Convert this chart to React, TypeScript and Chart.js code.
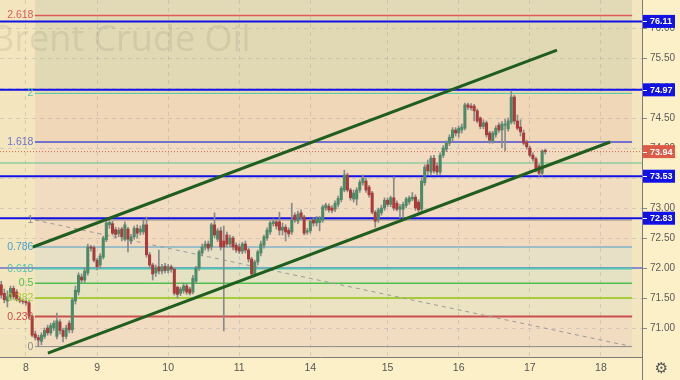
import React, { useEffect, useRef } from 'react';
import { Chart, registerables } from 'chart.js';

Chart.register(...registerables);

// ---- axes ----
const xTickPos = [0, 23, 46, 69, 92, 117, 140, 163, 186];
const xTickLabels = ['8', '9', '10', '11', '14', '15', '16', '17', '18'];
const yTicks = [71, 71.5, 72, 72.5, 73, 73.5, 74, 74.5, 75, 75.5, 76];
const X_MIN = -8.4;
const X_MAX = 199.3;
const Y_MIN = 70.517;
const Y_MAX = 76.467;

// ---- hourly candles [open, high, low, close] per trading day ----
const dayStart = [-8, 0, 23, 46, 69, 92, 117, 140, 163];
const day5 = [
  [71.72, 71.78, 71.5, 71.55], [71.58, 71.65, 71.42, 71.47], [71.45, 71.62, 71.35, 71.52], [71.52, 71.7, 71.48, 71.66],
  [71.66, 71.7, 71.48, 71.52], [71.6, 71.64, 71.45, 71.48], [71.48, 71.52, 71.42, 71.45], [71.45, 71.48, 71.4, 71.44],
];
const day8 = [
  [71.44, 71.47, 71.38, 71.42], [71.42, 71.45, 71.15, 71.2], [71.2, 71.22, 70.85, 70.88], [70.9, 70.95, 70.8, 70.84],
  [70.84, 70.88, 70.69, 70.8], [70.78, 70.92, 70.72, 70.88], [70.86, 71.0, 70.82, 70.96], [71.0, 71.05, 70.88, 70.92],
  [70.92, 71.08, 70.88, 71.04], [71.0, 71.12, 70.96, 71.08], [70.86, 71.25, 70.82, 71.12], [71.1, 71.14, 70.9, 70.96],
  [70.96, 71.0, 70.77, 70.86], [70.86, 71.05, 70.82, 71.0], [71.08, 71.12, 70.92, 70.97], [70.97, 71.5, 70.92, 71.47],
  [71.45, 71.7, 71.4, 71.63], [71.6, 71.92, 71.55, 71.88], [71.85, 71.9, 71.75, 71.8], [71.8, 72.0, 71.76, 71.95],
  [71.92, 72.4, 71.88, 72.35], [72.35, 72.38, 72.28, 72.33], [72.34, 72.37, 72.1, 72.13],
];
const day9 = [
  [72.13, 72.16, 71.97, 72.02], [72.05, 72.24, 72.0, 72.2], [72.18, 72.53, 72.15, 72.5], [72.47, 72.78, 72.44, 72.75],
  [72.72, 72.83, 72.66, 72.76], [72.74, 72.78, 72.55, 72.58], [72.64, 72.68, 72.5, 72.56], [72.57, 72.67, 72.52, 72.63],
  [72.65, 72.68, 72.45, 72.52], [72.48, 72.77, 72.45, 72.72], [72.65, 72.68, 72.27, 72.48], [72.45, 72.56, 72.4, 72.52],
  [72.52, 72.7, 72.48, 72.66], [72.66, 72.72, 72.5, 72.58], [72.6, 72.7, 72.55, 72.65], [72.6, 72.8, 72.56, 72.72],
  [72.72, 72.85, 72.18, 72.22], [72.22, 72.26, 72.0, 72.05], [72.05, 72.08, 71.8, 71.9], [71.92, 72.05, 71.86, 72.0],
  [72.02, 72.3, 71.9, 71.95], [71.95, 72.06, 71.9, 72.02], [72.03, 72.08, 71.92, 71.96],
];
const day10 = [
  [71.96, 72.06, 71.92, 72.02], [72.02, 72.05, 71.93, 71.98], [71.98, 72.0, 71.55, 71.58], [71.68, 71.7, 71.5, 71.56],
  [71.58, 71.68, 71.54, 71.65], [71.62, 71.75, 71.58, 71.7], [71.7, 71.74, 71.56, 71.6], [71.65, 71.68, 71.55, 71.58],
  [71.6, 71.88, 71.57, 71.83], [71.78, 72.03, 71.74, 72.0], [72.0, 72.3, 71.96, 72.27], [72.25, 72.4, 72.2, 72.35],
  [72.35, 72.45, 72.3, 72.4], [72.4, 72.45, 72.28, 72.33], [72.35, 72.75, 72.3, 72.72], [72.72, 72.92, 72.5, 72.55],
  [72.48, 72.66, 72.44, 72.62], [72.62, 72.68, 72.3, 72.35], [72.45, 72.7, 70.95, 72.35], [72.55, 72.6, 72.35, 72.4],
  [72.4, 72.55, 72.35, 72.5], [72.5, 72.53, 72.3, 72.35], [72.38, 72.42, 72.26, 72.3],
];
const day11 = [
  [72.35, 72.4, 72.24, 72.28], [72.28, 72.43, 72.24, 72.4], [72.4, 72.45, 72.25, 72.3], [72.3, 72.33, 72.1, 72.15],
  [72.15, 72.18, 71.87, 71.9], [71.9, 72.13, 71.86, 72.1], [72.1, 72.3, 72.05, 72.27], [72.25, 72.45, 72.2, 72.4],
  [72.38, 72.55, 72.33, 72.52], [72.5, 72.67, 72.46, 72.63], [72.6, 72.78, 72.56, 72.75], [72.74, 72.82, 72.7, 72.77],
  [72.77, 72.8, 72.65, 72.7], [72.77, 72.93, 72.55, 72.63], [72.63, 72.75, 72.55, 72.68], [72.68, 72.72, 72.45, 72.6],
  [72.63, 72.67, 72.52, 72.57], [72.6, 73.08, 72.56, 72.8], [72.88, 72.92, 72.76, 72.8], [72.78, 72.95, 72.74, 72.9],
  [72.92, 72.97, 72.8, 72.85], [72.85, 72.88, 72.55, 72.58], [72.6, 72.66, 72.56, 72.62],
];
const day14 = [
  [72.62, 72.82, 72.58, 72.78], [72.8, 72.84, 72.7, 72.75], [72.75, 72.86, 72.7, 72.82], [72.76, 72.86, 72.62, 72.82],
  [72.8, 73.05, 72.76, 73.02], [73.0, 73.08, 72.96, 73.05], [73.03, 73.07, 72.93, 72.97], [73.0, 73.04, 72.92, 72.96],
  [72.98, 73.12, 72.94, 73.08], [73.06, 73.2, 73.02, 73.16], [73.14, 73.36, 73.1, 73.33], [73.3, 73.63, 73.27, 73.55],
  [73.55, 73.58, 73.27, 73.3], [73.3, 73.33, 73.13, 73.17], [73.15, 73.3, 73.1, 73.25], [73.15, 73.34, 73.05, 73.3],
  [73.3, 73.47, 73.26, 73.43], [73.42, 73.55, 73.38, 73.5], [73.45, 73.5, 73.26, 73.3], [73.35, 73.38, 73.18, 73.22],
  [73.25, 73.28, 72.9, 72.93], [72.93, 72.96, 72.68, 72.78], [72.8, 73.0, 72.76, 72.97], [72.92, 73.05, 72.88, 73.0],
  [73.0, 73.17, 72.96, 73.13],
];
const day15 = [
  [73.13, 73.17, 73.02, 73.06], [73.06, 73.2, 73.02, 73.17], [73.17, 73.52, 72.96, 73.0], [73.08, 73.12, 72.95, 72.98],
  [72.98, 73.06, 72.83, 73.02], [72.98, 73.1, 72.83, 73.06], [73.04, 73.18, 73.0, 73.15], [73.1, 73.2, 73.06, 73.17],
  [73.15, 73.26, 73.12, 73.18], [73.18, 73.22, 72.96, 73.0], [73.1, 73.14, 72.93, 72.97], [72.98, 73.5, 72.92, 73.45],
  [73.42, 73.72, 73.38, 73.68], [73.72, 73.8, 73.56, 73.62], [73.6, 73.87, 73.55, 73.83], [73.83, 73.88, 73.58, 73.62],
  [73.7, 73.75, 73.55, 73.6], [73.6, 73.92, 73.56, 73.88], [73.88, 74.04, 73.84, 74.0], [73.98, 74.12, 73.94, 74.08],
  [74.08, 74.22, 74.04, 74.18], [74.17, 74.34, 74.12, 74.3], [74.3, 74.34, 74.2, 74.25],
];
const day16 = [
  [74.25, 74.37, 74.18, 74.33], [74.3, 74.4, 74.25, 74.35], [74.33, 74.75, 74.3, 74.72], [74.72, 74.75, 74.64, 74.68],
  [74.7, 74.74, 74.63, 74.67], [74.7, 74.73, 74.45, 74.62], [74.62, 74.65, 74.42, 74.45], [74.5, 74.52, 74.32, 74.36],
  [74.36, 74.47, 74.32, 74.42], [74.42, 74.45, 74.18, 74.22], [74.25, 74.28, 74.08, 74.13], [74.12, 74.28, 74.08, 74.25],
  [74.22, 74.37, 74.18, 74.33], [74.38, 74.42, 74.26, 74.3], [74.3, 74.44, 74.0, 74.4], [74.38, 74.48, 73.95, 74.4],
  [74.32, 74.5, 74.28, 74.45], [74.43, 74.95, 74.4, 74.85], [74.85, 74.88, 74.4, 74.45], [74.45, 74.55, 74.3, 74.33],
  [74.35, 74.47, 74.2, 74.27], [74.25, 74.3, 74.05, 74.08], [74.1, 74.13, 73.98, 74.02],
];
const day17 = [
  [74.0, 74.03, 73.85, 73.88], [73.88, 73.92, 73.78, 73.82], [73.82, 73.85, 73.6, 73.65], [73.7, 73.73, 73.53, 73.58],
  [73.58, 73.97, 73.53, 73.95], [73.96, 73.98, 73.9, 73.94],
];
const days = [day5, day8, day9, day10, day11, day14, day15, day16, day17];

// ---- drawing tools ----
const fibX = [2.9, 196.1];
const fibRatios = ['0', '0.236', '0.382', '0.5', '0.618', '0.786', '1', '1.618', '2', '2.618'];
const fibValues = [70.69, 71.19, 71.5, 71.745, 71.99, 72.35, 72.8, 74.1, 74.91, 76.21];
const fibColors = ['#8c8c8c', '#c9504f', '#a6cc3c', '#4fbf4f', '#4fc4b0', '#4a9fcc', '#8c8c8c', '#7272cc', '#52c8a0', '#e05a5a'];
const fibWidths = [1, 2, 2, 1.5, 2, 1, 1, 2, 1, 1.5];
const bandColors = ['#f1dcc1', '#ebe3c1', '#e5e3c1', '#e4e2c3', '#e8e0c6', '#f1dabd', '#f2dcc1', '#efd7b7', '#e1d9b4'];
const topBandColor = '#e2dab6';
const bottomBandColor = '#f1e3c4';
const baseColor = '#f3e6bf';

const blueLevels = [76.11, 74.97, 73.53, 72.83];
const lastPrice = 73.94;
const greenLevel = 73.75;
const purpleLevel = 72.0;
const upperChannel = [{ x: 2.27, y: 72.35 }, { x: 171.8, y: 75.633 }];
const lowerChannel = [{ x: 7.1, y: 70.583 }, { x: 189.0, y: 74.1 }];
const fibTrend = [{ x: 2.9, y: 72.8 }, { x: 196.1, y: 70.69 }];

const GREEN = '#4b8b68';
const RED = '#a93b3b';
const WICK = '#8a8a8a';
const BLUE = '#1212e6';
const FONT = '"Liberation Sans", Arial, sans-serif';

function hLine(y: number, x0: number, x1: number) {
  return [{ x: x0, y }, { x: x1, y }];
}

const overlayPlugin = {
  id: 'overlay',
  beforeDatasetsDraw(chart: any) {
    const { ctx } = chart;
    const a = chart.chartArea;
    ctx.save();
    ctx.beginPath();
    ctx.rect(a.left, a.top, a.right - a.left, a.bottom - a.top);
    ctx.clip();
    ctx.font = '36px "Open Sans", sans-serif';
    ctx.fillStyle = 'rgba(110,100,75,0.13)';
    ctx.textAlign = 'left';
    ctx.textBaseline = 'alphabetic';
    ctx.fillText('Brent Crude Oil', -9, 51);
    ctx.restore();
  },
  afterDatasetsDraw(chart: any) {
    const { ctx } = chart;
    const xs = chart.scales.x;
    const ys = chart.scales.y;
    ctx.save();
    ctx.font = '10.5px ' + FONT;
    ctx.textAlign = 'right';
    ctx.textBaseline = 'middle';
    const lx = xs.getPixelForValue(fibX[0]) - 1.5;
    fibRatios.forEach((r, i) => {
      ctx.fillStyle = fibColors[i];
      ctx.fillText(r, lx, ys.getPixelForValue(fibValues[i]));
    });
    ctx.restore();
  },
  afterDraw(chart: any) {
    const { ctx } = chart;
    const ys = chart.scales.y;
    const a = chart.chartArea;
    ctx.save();
    ctx.strokeStyle = '#7a7a7a';
    ctx.lineWidth = 1;
    ctx.beginPath();
    ctx.moveTo(a.right + 0.5, a.bottom);
    ctx.lineTo(a.right + 0.5, chart.height);
    ctx.stroke();
    const boxes = blueLevels.map((v) => ({ v, c: BLUE })).concat([{ v: lastPrice, c: '#dc5a46' }]);
    ctx.font = 'bold 9px ' + FONT;
    ctx.textAlign = 'left';
    ctx.textBaseline = 'middle';
    boxes.forEach((b) => {
      const y = ys.getPixelForValue(b.v);
      ctx.fillStyle = b.c;
      ctx.fillRect(a.right + 1, y - 6.5, 32, 13);
      ctx.strokeStyle = '#ffffff';
      ctx.beginPath();
      ctx.moveTo(a.right + 1, Math.round(y) + 0.5);
      ctx.lineTo(a.right + 5, Math.round(y) + 0.5);
      ctx.stroke();
      ctx.fillStyle = '#ffffff';
      ctx.fillText(b.v.toFixed(2), a.right + 8, y + 0.5);
    });
    ctx.fillStyle = '#555555';
    ctx.font = '15px "DejaVu Sans", sans-serif';
    ctx.textAlign = 'center';
    ctx.fillText('\u2699', 661.5, 369);
    ctx.restore();
  },
};

export default function App() {
  const ref = useRef<HTMLCanvasElement>(null);
  useEffect(() => {
    document.body.style.margin = '0';
    const candles: { x: number; o: number; h: number; l: number; c: number }[] = [];
    days.forEach((d, di) => {
      d.forEach((k, j) => candles.push({ x: dayStart[di] + j, o: k[0], h: k[1], l: k[2], c: k[3] }));
    });

    const line = (data: any, color: string, width: number, order: number, extra: any = {}) => ({
      type: 'line',
      data,
      borderColor: color,
      borderWidth: width,
      pointRadius: 0,
      fill: false,
      order,
      ...extra,
    });

    const datasets: any[] = [];
    datasets.push(line(hLine(Y_MAX, X_MIN, X_MAX), 'rgba(0,0,0,0)', 0, 100, { fill: { value: Y_MIN }, backgroundColor: baseColor }));
    datasets.push(line(hLine(Y_MAX, fibX[0], fibX[1]), 'rgba(0,0,0,0)', 0, 90, { fill: { value: fibValues[9] }, backgroundColor: topBandColor }));
    datasets.push(line(hLine(fibValues[0], fibX[0], fibX[1]), 'rgba(0,0,0,0)', 0, 90, { fill: { value: Y_MIN }, backgroundColor: bottomBandColor }));
    for (let i = 0; i < bandColors.length; i++) {
      datasets.push(line(hLine(fibValues[i + 1], fibX[0], fibX[1]), 'rgba(0,0,0,0)', 0, 90, { fill: { value: fibValues[i] }, backgroundColor: bandColors[i] }));
    }
    datasets.push(line(hLine(purpleLevel, X_MIN, X_MAX), '#6f6fd0', 1.5, 40));
    fibValues.forEach((v, i) => datasets.push(line(hLine(v, fibX[0], fibX[1]), fibColors[i], fibWidths[i], 30)));
    datasets.push(line(fibTrend, '#9a9a9a', 1, 25, { borderDash: [4, 4] }));
    datasets.push(line(hLine(greenLevel, X_MIN, X_MAX), '#5cc58e', 1, 20));
    datasets.push(line(hLine(lastPrice, X_MIN, X_MAX), '#e0604c', 1, 15, { borderDash: [1, 2] }));
    blueLevels.forEach((v) => datasets.push(line(hLine(v, X_MIN, X_MAX), BLUE, 2, 10)));
    datasets.push({
      type: 'bar',
      data: candles.map((k) => ({ x: k.x, y: [k.l, k.h] })),
      backgroundColor: WICK,
      barThickness: 1,
      grouped: false,
      borderWidth: 0,
      order: 4,
    });
    datasets.push({
      type: 'bar',
      data: candles.map((k) => ({ x: k.x, y: [k.o, k.c] })),
      backgroundColor: candles.map((k) => (k.c >= k.o ? GREEN : RED)),
      barThickness: 2.4,
      grouped: false,
      borderWidth: 0,
      order: 3,
    });
    datasets.push(line(upperChannel, '#1f5e1f', 3, 1));
    datasets.push(line(lowerChannel, '#1f5e1f', 3, 1));

    const grid = 'rgba(140,140,170,0.28)';
    const chart = new Chart(ref.current as HTMLCanvasElement, {
      type: 'bar',
      data: { datasets },
      options: {
        animation: false,
        responsive: false,
        devicePixelRatio: 1,
        events: [],
        layout: { padding: 0 },
        plugins: {
          legend: { display: false },
          tooltip: { enabled: false },
          filler: { drawTime: 'beforeDraw', propagate: false },
        },
        scales: {
          x: {
            type: 'linear',
            min: X_MIN,
            max: X_MAX,
            offset: false,
            afterBuildTicks: (s: any) => {
              s.ticks = xTickPos.map((v) => ({ value: v }));
            },
            afterFit: (s: any) => {
              s.height = 23;
              s.paddingLeft = 0;
              s.paddingRight = 0;
            },
            ticks: {
              autoSkip: false,
              maxRotation: 0,
              padding: 5,
              color: '#555555',
              font: { size: 10.5, family: FONT },
              callback: (_v: any, i: number) => xTickLabels[i],
            },
            grid: { color: grid, drawTicks: false, offset: false },
            border: { display: true, color: '#7a7a7a', dash: [4, 4] },
          },
          y: {
            type: 'linear',
            position: 'right',
            min: Y_MIN,
            max: Y_MAX,
            afterBuildTicks: (s: any) => {
              s.ticks = yTicks.map((v) => ({ value: v }));
            },
            afterFit: (s: any) => {
              s.width = 38;
              s.paddingTop = 0;
              s.paddingBottom = 0;
            },
            ticks: {
              padding: 3,
              color: '#5a5a5a',
              font: { size: 10, family: FONT },
              callback: (v: any) => Number(v).toFixed(2),
            },
            grid: { color: grid, tickLength: 5, tickColor: '#8a8a8a' },
            border: { display: true, color: '#7a7a7a', dash: [4, 4] },
          },
        },
      } as any,
      plugins: [overlayPlugin],
    } as any);
    return () => chart.destroy();
  }, []);

  return (
    <div style={{ position: 'absolute', left: 0, top: 0, width: 680, height: 380, background: '#fcf0c9' }}>
      <canvas ref={ref} width={680} height={380} style={{ display: 'block', width: 680, height: 380 }} />
    </div>
  );
}
